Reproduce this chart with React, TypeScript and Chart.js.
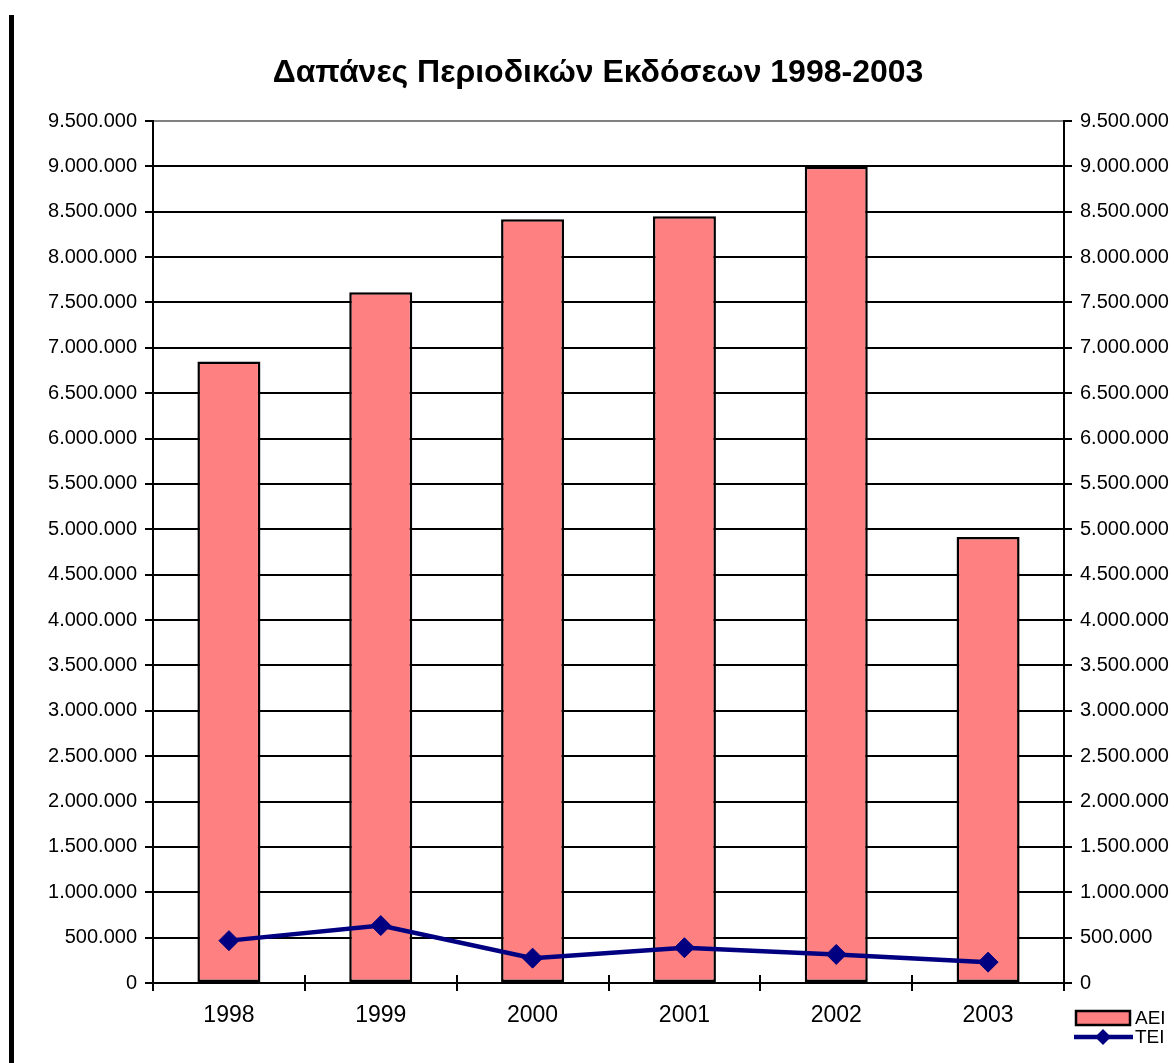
import React, { useEffect, useRef } from "react";
import { Chart, registerables } from "chart.js";

Chart.register(...registerables);

const categories = ["1998", "1999", "2000", "2001", "2002", "2003"];
const aeiValues = [6850000, 7613000, 8416000, 8449000, 8995000, 4915000];
const teiValues = [467000, 633000, 274000, 389000, 315000, 230000];
const seriesNames = ["AEI", "TEI"];
const titleText = "Δαπάνες Περιοδικών Εκδόσεων 1998-2003";
const axisMin = 0;
const axisMax = 9500000;
const axisStep = 500000;

const FONT = "'Liberation Sans', Arial, sans-serif";
const BAR_COLOR = "#FF8080";
const LINE_COLOR = "#000080";

const fmt = (v: number) => String(Math.round(v)).replace(/\B(?=(\d{3})+(?!\d))/g, ".");

const innerTicks = {
  id: "innerTicks",
  afterDraw(chart: any) {
    const x = chart.scales.x;
    const ctx = chart.ctx;
    const n = chart.data.labels.length;
    ctx.save();
    ctx.strokeStyle = "#000";
    ctx.lineWidth = 2;
    for (let i = 0; i <= n; i++) {
      const px = Math.round(x.left + (i * (x.right - x.left)) / n);
      ctx.beginPath();
      ctx.moveTo(px, x.top - 8);
      ctx.lineTo(px, x.top);
      ctx.stroke();
    }
    ctx.restore();
  },
};

const customLegend = {
  id: "customLegend",
  afterDraw(chart: any) {
    const ctx = chart.ctx;
    const area = chart.chartArea;
    const ds = chart.data.datasets;
    const left = area.right + 12;
    const top = area.bottom + 28;
    ctx.save();
    ctx.fillStyle = ds[0].backgroundColor;
    ctx.fillRect(left, top, 54, 14);
    ctx.strokeStyle = ds[0].borderColor;
    ctx.lineWidth = 2.5;
    ctx.strokeRect(left, top, 54, 14);
    ctx.fillStyle = "#000";
    ctx.font = `19px ${FONT}`;
    ctx.textBaseline = "middle";
    ctx.textAlign = "left";
    ctx.fillText(ds[0].label, left + 59, top + 8);
    const ly = top + 26;
    ctx.strokeStyle = ds[1].borderColor;
    ctx.lineWidth = 4.5;
    ctx.beginPath();
    ctx.moveTo(left - 2, ly);
    ctx.lineTo(left + 57, ly);
    ctx.stroke();
    const cx = left + 27;
    const r = 8;
    ctx.fillStyle = ds[1].pointBackgroundColor;
    ctx.beginPath();
    ctx.moveTo(cx, ly - r);
    ctx.lineTo(cx + r, ly);
    ctx.lineTo(cx, ly + r);
    ctx.lineTo(cx - r, ly);
    ctx.closePath();
    ctx.fill();
    ctx.fillStyle = "#000";
    ctx.fillText(ds[1].label, left + 59, ly + 1);
    ctx.restore();
  },
};

export default function App() {
  const ref = useRef<HTMLCanvasElement | null>(null);

  useEffect(() => {
    if (!ref.current) return;
    Chart.defaults.font.family = FONT;
    Chart.defaults.color = "#000";
    const chart = new Chart(ref.current, {
      type: "bar",
      data: {
        labels: categories,
        datasets: [
          {
            type: "bar",
            label: seriesNames[0],
            data: aeiValues,
            backgroundColor: BAR_COLOR,
            borderColor: "#000",
            borderWidth: 2.5,
            borderSkipped: false,
            barPercentage: 0.415,
            categoryPercentage: 1,
            yAxisID: "y",
            order: 2,
          } as any,
          {
            type: "line",
            label: seriesNames[1],
            data: teiValues,
            borderColor: LINE_COLOR,
            backgroundColor: LINE_COLOR,
            pointBackgroundColor: LINE_COLOR,
            pointBorderColor: LINE_COLOR,
            borderWidth: 4.5,
            pointStyle: "rectRot",
            pointRadius: 10,
            pointBorderWidth: 1,
            tension: 0,
            fill: false,
            yAxisID: "y",
            order: 1,
          } as any,
        ],
      },
      options: {
        animation: false,
        responsive: true,
        maintainAspectRatio: false,
        layout: { padding: { left: 22, right: 0, top: 0, bottom: 0 } },
        plugins: {
          legend: { display: false },
          tooltip: { enabled: false },
          title: {
            display: true,
            text: titleText,
            color: "#000",
            font: { size: 32, weight: "bold", family: FONT },
            padding: { top: 54, bottom: 28.6 },
          },
        },
        scales: {
          x: {
            type: "category",
            offset: true,
            afterFit: (s: any) => {
              s.height = 80;
            },
            grid: {
              display: true,
              drawOnChartArea: false,
              offset: true,
              tickLength: 8,
              color: "#000",
              lineWidth: 2,
            },
            border: { color: "#000", width: 2 },
            ticks: { font: { size: 23 }, color: "#000", padding: 11 },
          },
          y: {
            position: "left",
            min: axisMin,
            max: axisMax,
            afterFit: (s: any) => {
              s.width = 131;
            },
            ticks: {
              stepSize: axisStep,
              font: { size: 20 },
              color: "#000",
              padding: 8,
              callback: (v: any) => fmt(Number(v)),
            },
            grid: {
              color: (c: any) => (c.tick && c.tick.value === axisMax ? "#808080" : "#000"),
              tickColor: "#000",
              lineWidth: 2,
              tickLength: 8,
            },
            border: { color: "#000", width: 2 },
          },
          y2: {
            position: "right",
            min: axisMin,
            max: axisMax,
            afterFit: (s: any) => {
              s.width = 110;
            },
            ticks: {
              stepSize: axisStep,
              font: { size: 20 },
              color: "#000",
              padding: 8,
              callback: (v: any) => fmt(Number(v)),
            },
            grid: {
              drawOnChartArea: false,
              color: "#000",
              lineWidth: 2,
              tickLength: 8,
            },
            border: { color: "#000", width: 2 },
          },
        },
      } as any,
      plugins: [innerTicks, customLegend],
    });
    return () => chart.destroy();
  }, []);

  return (
    <>
      <div
        style={{
          position: "absolute",
          left: 9,
          top: 15,
          width: 5,
          height: 1048,
          background: "#000",
          zIndex: 2,
        }}
      />
      <div style={{ position: "absolute", left: 0, top: 0, width: 1174, height: 1063 }}>
        <canvas ref={ref} />
      </div>
    </>
  );
}
